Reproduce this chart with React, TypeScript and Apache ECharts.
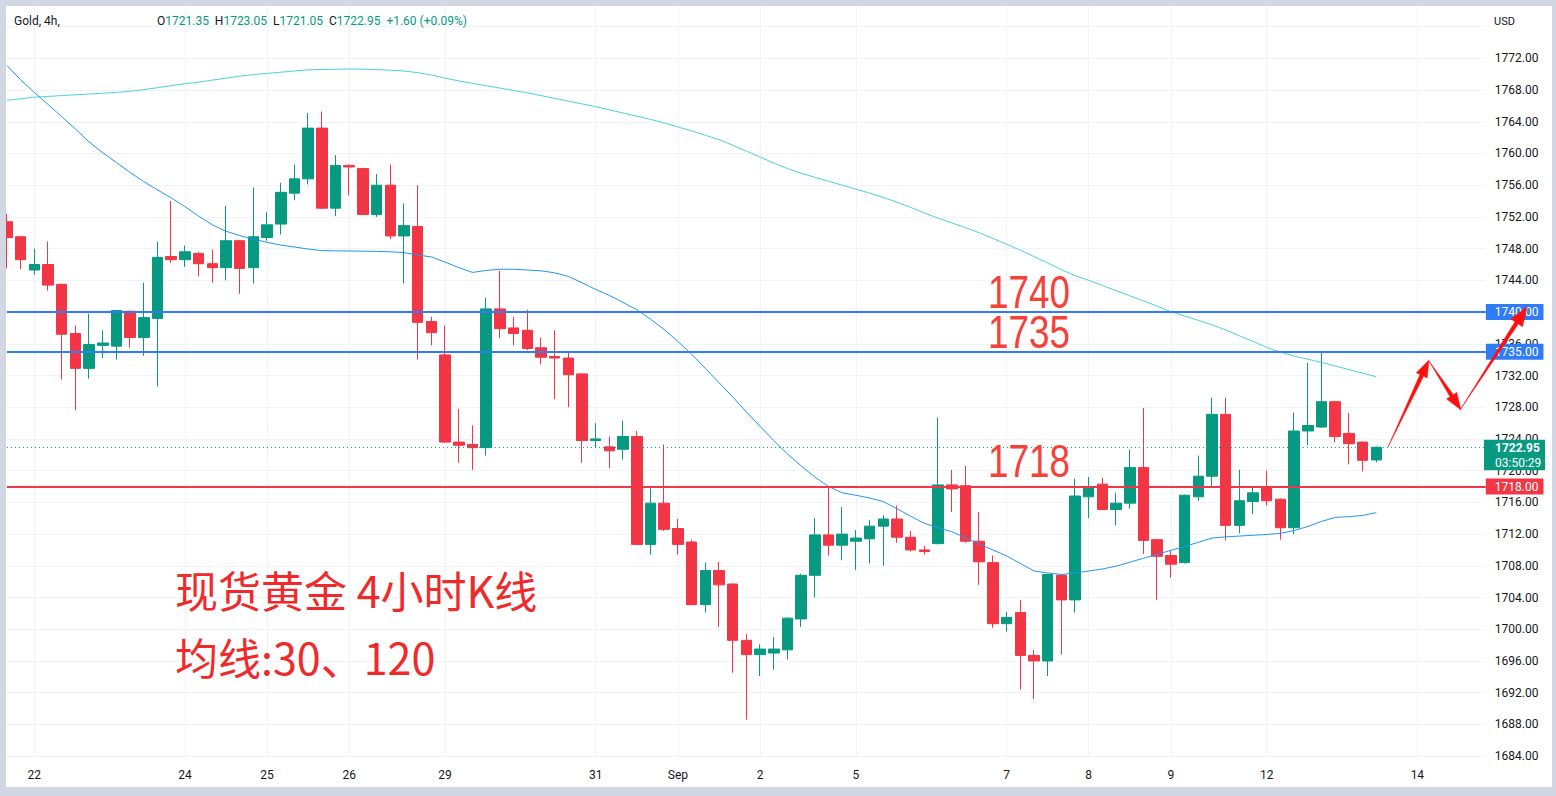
import React, { useEffect, useRef } from "react";
import * as echarts from "echarts";

// ---------- data ----------
const OPEN = [
  1751.4, 1749.5, 1745.3, 1746.0, 1743.5, 1737.3, 1732.9, 1735.8, 1735.7, 1740.1,
  1736.8, 1739.2, 1747.0, 1746.6, 1747.4, 1746.1, 1745.6, 1749.0, 1745.6, 1749.4,
  1751.1, 1755.0, 1756.8, 1763.2, 1753.1, 1758.5, 1758.1, 1752.3, 1756.0, 1749.6,
  1750.8, 1738.8, 1734.6, 1723.6, 1723.3, 1722.9, 1740.4, 1738.0, 1737.7, 1735.5,
  1734.4, 1734.2, 1732.2, 1723.8, 1723.0, 1722.7, 1724.3, 1710.7, 1715.9, 1712.7,
  1711.0, 1703.1, 1707.4, 1705.7, 1698.6, 1696.8, 1697.0, 1697.4, 1701.3, 1706.8,
  1711.9, 1710.6, 1711.1, 1711.4, 1713.0, 1713.9, 1711.6, 1710.0, 1710.8, 1718.2,
  1718.1, 1711.1, 1708.4, 1700.7, 1702.1, 1696.7, 1696.0, 1706.8, 1703.7, 1716.7,
  1718.3, 1715.1, 1715.9, 1720.4, 1711.3, 1709.3, 1708.4, 1716.7, 1719.3, 1727.1,
  1713.1, 1716.1, 1718.0, 1716.4, 1712.8, 1725.0, 1725.5, 1728.7, 1724.7, 1723.6,
  1721.35,
];
const CLOSE = [
  1749.4, 1746.6, 1746.0, 1743.4, 1737.2, 1732.9, 1735.9, 1736.1, 1740.2, 1736.8,
  1739.3, 1746.9, 1746.6, 1747.6, 1746.1, 1745.6, 1749.0, 1745.5, 1749.5, 1751.0,
  1755.1, 1756.8, 1763.2, 1753.1, 1758.5, 1758.3, 1752.3, 1756.0, 1749.6, 1750.9,
  1738.7, 1737.4, 1723.6, 1723.2, 1722.9, 1740.4, 1737.9, 1737.3, 1735.4, 1734.3,
  1734.2, 1732.1, 1723.8, 1724.0, 1722.5, 1724.3, 1710.7, 1715.9, 1712.6, 1710.7,
  1703.1, 1707.4, 1705.6, 1698.6, 1696.8, 1697.5, 1697.5, 1701.4, 1706.8, 1711.9,
  1710.6, 1712.0, 1711.5, 1713.0, 1713.9, 1711.6, 1710.0, 1709.8, 1718.2, 1717.7,
  1711.1, 1708.5, 1700.7, 1701.5, 1696.7, 1696.0, 1706.9, 1703.7, 1716.8, 1717.9,
  1715.1, 1715.9, 1720.4, 1711.2, 1709.2, 1708.2, 1716.9, 1719.3, 1727.1, 1713.1,
  1716.2, 1717.2, 1716.2, 1712.8, 1725.0, 1725.7, 1728.7, 1724.3, 1723.4, 1721.3,
  1722.95,
];
const LOW = [
  1745.5, 1745.4, 1744.7, 1742.7, 1731.5, 1727.6, 1731.6, 1734.2, 1734.0, 1735.5,
  1734.5, 1730.6, 1746.2, 1745.7, 1744.5, 1743.7, 1744.0, 1742.3, 1743.6, 1749.0,
  1749.8, 1754.1, 1756.1, 1753.0, 1752.1, 1754.7, 1752.2, 1752.0, 1749.2, 1743.6,
  1734.0, 1735.8, 1723.5, 1721.0, 1720.1, 1721.9, 1736.7, 1735.8, 1735.2, 1733.4,
  1729.0, 1728.0, 1721.0, 1722.9, 1720.3, 1721.4, 1710.6, 1709.4, 1712.4, 1709.4,
  1703.0, 1702.1, 1700.3, 1694.5, 1688.6, 1694.1, 1694.9, 1696.2, 1700.3, 1704.0,
  1709.3, 1708.7, 1707.5, 1708.3, 1708.0, 1710.9, 1709.8, 1709.4, 1710.7, 1714.8,
  1710.9, 1705.6, 1700.2, 1699.7, 1692.4, 1691.2, 1694.1, 1696.8, 1702.1, 1714.0,
  1715.0, 1713.1, 1715.2, 1709.5, 1703.7, 1706.5, 1708.3, 1716.2, 1718.0, 1711.2,
  1712.1, 1714.5, 1715.6, 1711.3, 1712.0, 1723.2, 1725.4, 1723.6, 1720.8, 1719.9,
  1721.05,
];
const HIGH = [
  1752.4, 1749.6, 1748.0, 1748.9, 1743.6, 1738.3, 1739.8, 1737.7, 1740.3, 1740.2,
  1743.7, 1748.9, 1754.0, 1748.4, 1747.6, 1747.9, 1753.4, 1749.1, 1755.7, 1752.6,
  1756.3, 1758.6, 1765.1, 1765.3, 1759.8, 1758.6, 1758.2, 1757.4, 1758.6, 1753.7,
  1756.0, 1739.4, 1738.3, 1727.8, 1725.7, 1741.8, 1745.2, 1739.4, 1740.3, 1736.8,
  1737.7, 1734.9, 1732.3, 1726.0, 1724.3, 1726.3, 1725.0, 1717.9, 1723.3, 1713.9,
  1711.3, 1708.4, 1708.5, 1705.8, 1699.4, 1698.1, 1699.0, 1701.5, 1707.0, 1714.0,
  1718.0, 1715.4, 1712.5, 1713.8, 1714.4, 1715.6, 1712.4, 1710.5, 1726.7, 1720.1,
  1720.6, 1714.8, 1709.3, 1702.2, 1703.7, 1697.4, 1707.0, 1706.9, 1719.0, 1719.2,
  1719.1, 1717.2, 1722.6, 1727.9, 1711.4, 1709.9, 1717.0, 1721.9, 1729.2, 1729.2,
  1720.1, 1717.9, 1720.0, 1716.5, 1727.3, 1733.6, 1734.9, 1728.8, 1727.3, 1723.7,
  1723.05,
];
const MA30 = [
  1771.1, 1769.3, 1767.7, 1766.2, 1764.65, 1763.1, 1761.45, 1760.1, 1758.85, 1757.6,
  1756.45, 1755.4, 1754.4, 1753.3, 1752.1, 1751.0, 1750.2, 1749.65, 1749.2, 1748.8,
  1748.45, 1748.2, 1747.95, 1747.75, 1747.72, 1747.7, 1747.68, 1747.65, 1747.6, 1747.5,
  1747.2, 1746.95, 1746.3, 1745.6, 1745.0, 1745.25, 1745.4, 1745.4, 1745.3, 1745.2,
  1744.95, 1744.5, 1743.7, 1742.85, 1742.1, 1741.2, 1740.3, 1739.1, 1737.8, 1736.3,
  1734.7, 1732.9, 1731.1, 1729.3, 1727.4, 1725.6, 1723.8, 1722.1, 1720.6, 1719.2,
  1718.0, 1717.2, 1716.9, 1716.55, 1716.1, 1715.2, 1714.25, 1713.35, 1712.8, 1712.3,
  1711.55, 1710.75, 1710.0, 1709.25, 1708.3, 1707.35, 1707.1, 1706.9, 1707.1, 1707.35,
  1707.6, 1707.95, 1708.45, 1708.95, 1709.45, 1709.95, 1710.45, 1710.95, 1711.5, 1711.65,
  1711.75, 1711.85, 1711.95, 1712.1, 1712.45, 1712.95, 1713.6, 1714.1, 1714.2, 1714.35,
  1714.7,
];
const MA120 = [
  1766.7, 1766.9, 1767.1, 1767.2, 1767.3, 1767.4, 1767.5, 1767.6, 1767.7, 1767.85,
  1768.05, 1768.3, 1768.55, 1768.8, 1769.0, 1769.25, 1769.5, 1769.75, 1769.95, 1770.1,
  1770.25, 1770.4, 1770.55, 1770.6, 1770.62, 1770.65, 1770.63, 1770.58, 1770.5, 1770.4,
  1770.2, 1769.9, 1769.5, 1769.15, 1768.85, 1768.55, 1768.25, 1767.95, 1767.65, 1767.3,
  1766.95, 1766.6, 1766.25, 1765.9, 1765.5, 1765.1, 1764.7, 1764.3, 1763.85, 1763.35,
  1762.85, 1762.3, 1761.75, 1761.05, 1760.3, 1759.55, 1758.8, 1758.1, 1757.5, 1757.0,
  1756.5, 1756.0, 1755.5, 1755.0, 1754.45, 1753.85, 1753.2, 1752.5, 1751.85, 1751.25,
  1750.65, 1750.0, 1749.3, 1748.55, 1747.8, 1747.0, 1746.2, 1745.35, 1744.6, 1744.0,
  1743.35, 1742.7, 1742.05, 1741.4, 1740.75, 1740.05, 1739.5, 1738.95, 1738.4, 1737.75,
  1737.0, 1736.3, 1735.55, 1734.95, 1734.45, 1734.05, 1733.65, 1733.2, 1732.75, 1732.3,
  1731.85,
];
const SLOT_COUNT = 109;
const DATE_TICK_INDEX = [2, 13, 19, 25, 32, 43, 49, 55, 62, 73, 79, 85, 92, 103];
const DATE_TICK_LABEL = ["22", "24", "25", "26", "29", "31", "Sep", "2", "5", "7", "8", "9", "12", "14"];
const BLUE_LEVELS = [1740, 1735];
const RED_LEVELS = [1718];
const LAST_PRICE = 1722.95;
const COUNTDOWN = "03:50:29";
const Y_MIN = 1684;
const Y_MAX = 1780;
const Y_STEP = 4;
const Y_LABEL_TOP = 1772; // highest price label left visible under the "USD" header
const HEADER_TITLE = "Gold, 4h,";
const HEADER_OHLC = [
  ["O", "1721.35"],
  ["H", "1723.05"],
  ["L", "1721.05"],
  ["C", "1722.95"],
];
const HEADER_CHANGE = "+1.60 (+0.09%)";
const LEVEL_NOTES = ["1740", "1735", "1718"];
const NOTE_LINE1 = "现货黄金 4小时K线";
const NOTE_LINE2 = "均线:30、120";

// ---------- styles ----------
const FONT = "Roboto, 'Liberation Sans', sans-serif";
const UP = "#089981";
const DOWN = "#f23645";
const BLUE = "#2f7cf6";
const TEXT = "#131722";
const GRIDC = "#f0f3fa";
const FRAME = "#d1d8e4";
const NOTE_RED = "#f4413a";
const ARROW_RED = "#ff1010";
const NOTE_FONT = "'Liberation Sans', Arial, sans-serif";

function arrowPoints(tx: number, ty: number, px: number, py: number, shaft: number, headLen: number, headHalf: number) {
  const dx = px - tx;
  const dy = py - ty;
  const L = Math.hypot(dx, dy);
  const ux = dx / L;
  const uy = dy / L;
  const nx = -uy;
  const ny = ux;
  const bx = px - ux * headLen;
  const by = py - uy * headLen;
  return [
    [tx, ty],
    [bx + (nx * shaft) / 2, by + (ny * shaft) / 2],
    [bx + nx * headHalf, by + ny * headHalf],
    [px, py],
    [bx - nx * headHalf, by - ny * headHalf],
    [bx - (nx * shaft) / 2, by - (ny * shaft) / 2],
  ];
}

export default function App() {
  const ref = useRef<HTMLDivElement>(null);
  useEffect(() => {
    const chart = echarts.init(ref.current!, null, { renderer: "svg" });
    const slots = Array.from({ length: SLOT_COUNT }, (_, i) => "s" + i);
    const tickMap = new Map<number, string>(DATE_TICK_INDEX.map((d, k) => [d, DATE_TICK_LABEL[k]]));
    const candles = OPEN.map((o, i) => [o, CLOSE[i], LOW[i], HIGH[i]]);

    const levelTag = (v: number, color: string) => ({
      yAxis: v,
      lineStyle: { color, width: 2, type: "solid" },
      label: {
        show: true,
        position: "end",
        distance: 0,
        formatter: () => v.toFixed(2),
        backgroundColor: color,
        color: "#ffffff",
        fontFamily: FONT,
        fontSize: 12,
        lineHeight: 12,
        padding: [2, 5, 2, 9],
      },
    });

    chart.setOption({
      animation: false,
      textStyle: { fontFamily: FONT },
      grid: {
        left: 6.9,
        top: -5.1,
        width: 1478.95,
        height: 761.2,
        containLabel: false,
        outerBoundsMode: "none",
      },
      xAxis: {
        type: "category",
        data: slots,
        boundaryGap: false,
        axisLine: { show: false },
        axisTick: { show: false },
        axisLabel: {
          interval: (i: number) => tickMap.has(i),
          formatter: (_v: string, i: number) => tickMap.get(i) ?? "",
          color: TEXT,
          fontSize: 12,
          margin: 13,
        },
        splitLine: {
          show: true,
          interval: (i: number) => tickMap.has(i),
          lineStyle: { color: GRIDC, width: 1 },
        },
      },
      yAxis: {
        type: "value",
        position: "right",
        min: Y_MIN,
        max: Y_MAX,
        interval: Y_STEP,
        axisLine: { show: false },
        axisTick: { show: false },
        axisLabel: {
          formatter: (v: number) => (v > Y_LABEL_TOP ? "" : v.toFixed(2)),
          color: TEXT,
          fontSize: 12,
          margin: 9,
        },
        splitLine: { lineStyle: { color: GRIDC, width: 1 } },
      },
      series: [
        {
          type: "candlestick",
          data: candles,
          barWidth: 11,
          z: 2,
          itemStyle: { color: UP, color0: DOWN, borderColor: UP, borderColor0: DOWN, borderWidth: 1 },
          markLine: {
            symbol: ["none", "none"],
            silent: true,
            animation: false,
            data: [
              ...BLUE_LEVELS.map((v) => levelTag(v, BLUE)),
              ...RED_LEVELS.map((v) => levelTag(v, DOWN)),
              {
                yAxis: LAST_PRICE,
                lineStyle: { color: UP, width: 1, type: [1, 3] },
                label: { show: false },
              },
            ],
          },
        },
        {
          type: "line",
          data: MA120,
          showSymbol: false,
          z: 3,
          lineStyle: { color: "#4dd0e1", width: 1 },
        },
        {
          type: "line",
          data: MA30,
          showSymbol: false,
          z: 3,
          lineStyle: { color: "#2196f3", width: 1 },
        },
      ],
    });

    const yLast = chart.convertToPixel({ yAxisIndex: 0 }, LAST_PRICE) as number;

    let ohlcRich = "";
    HEADER_OHLC.forEach(([k, v]) => {
      ohlcRich += `{k|${k}}{v|${v}}  `;
    });
    ohlcRich += `{v|${HEADER_CHANGE}}`;

    const arrows = [
      arrowPoints(1388, 447, 1429, 360, 4, 17, 6),
      arrowPoints(1429, 361, 1461, 410, 4, 17, 6),
      arrowPoints(1460, 410, 1527, 307, 4, 19, 7),
    ];

    const note = (text: string, y: number) => ({
      type: "text",
      x: 988,
      y,
      z: 50,
      scaleX: 0.8,
      style: { text, fill: NOTE_RED, fontSize: 46, fontFamily: NOTE_FONT, verticalAlign: "middle" },
    });

    chart.setOption({
      graphic: [
        // annotations
        note(LEVEL_NOTES[0], 292),
        note(LEVEL_NOTES[1], 332),
        note(LEVEL_NOTES[2], 461),
        { type: "text", x: 175, y: 589, z: 50, style: { text: NOTE_LINE1, fill: "#f02a2a", fontSize: 43, fontFamily: "'Noto Sans CJK SC', sans-serif", verticalAlign: "middle" } },
        { type: "text", x: 175, y: 656, z: 50, style: { text: NOTE_LINE2, fill: "#f02a2a", fontSize: 43, fontFamily: "'Noto Sans CJK SC', sans-serif", verticalAlign: "middle" } },
        ...arrows.map((pts) => ({ type: "polygon", z: 60, shape: { points: pts }, style: { fill: ARROW_RED, stroke: ARROW_RED, lineWidth: 0.5 } })),
        // last price tag
        {
          type: "group",
          z: 90,
          children: [
            { type: "rect", z: 90, shape: { x: 1484, y: yLast - 7.5, width: 61, height: 30.5 }, style: { fill: UP } },
            { type: "text", z: 91, x: 1495, y: yLast + 1, style: { text: LAST_PRICE.toFixed(2), fill: "#ffffff", fontSize: 12, fontFamily: FONT, fontWeight: "bold", verticalAlign: "middle" } },
            { type: "text", z: 91, x: 1495, y: yLast + 15.5, style: { text: COUNTDOWN, fill: "#ffffff", fontSize: 12, fontFamily: FONT, verticalAlign: "middle" } },
          ],
        },
        // header
        { type: "text", x: 14, y: 21, z: 95, style: { text: HEADER_TITLE, fill: TEXT, fontSize: 12, fontFamily: FONT, verticalAlign: "middle" } },
        {
          type: "text",
          x: 157,
          y: 21,
          z: 95,
          style: {
            text: ohlcRich,
            fontSize: 12,
            fontFamily: FONT,
            verticalAlign: "middle",
            rich: {
              k: { fill: TEXT, fontSize: 12, fontFamily: FONT },
              v: { fill: UP, fontSize: 12, fontFamily: FONT },
            },
          },
        },
        // USD header
        { type: "rect", z: 96, shape: { x: 1486, y: 6, width: 66, height: 24 }, style: { fill: "#ffffff" } },
        { type: "text", x: 1494, y: 21, z: 97, style: { text: "USD", fill: TEXT, fontSize: 11, fontFamily: FONT, verticalAlign: "middle" } },
        // frame
        { type: "rect", z: 100, shape: { x: 0, y: 0, width: 1556, height: 6 }, style: { fill: FRAME } },
        { type: "rect", z: 100, shape: { x: 0, y: 0, width: 6, height: 796 }, style: { fill: FRAME } },
        { type: "rect", z: 100, shape: { x: 1552, y: 0, width: 4, height: 796 }, style: { fill: FRAME } },
        { type: "rect", z: 100, shape: { x: 0, y: 787, width: 1556, height: 9 }, style: { fill: FRAME } },
      ],
    });

    return () => chart.dispose();
  }, []);
  return (
    <div
      ref={ref}
      style={{ position: "fixed", left: 0, top: 0, width: 1556, height: 796, background: "#ffffff" }}
    />
  );
}
